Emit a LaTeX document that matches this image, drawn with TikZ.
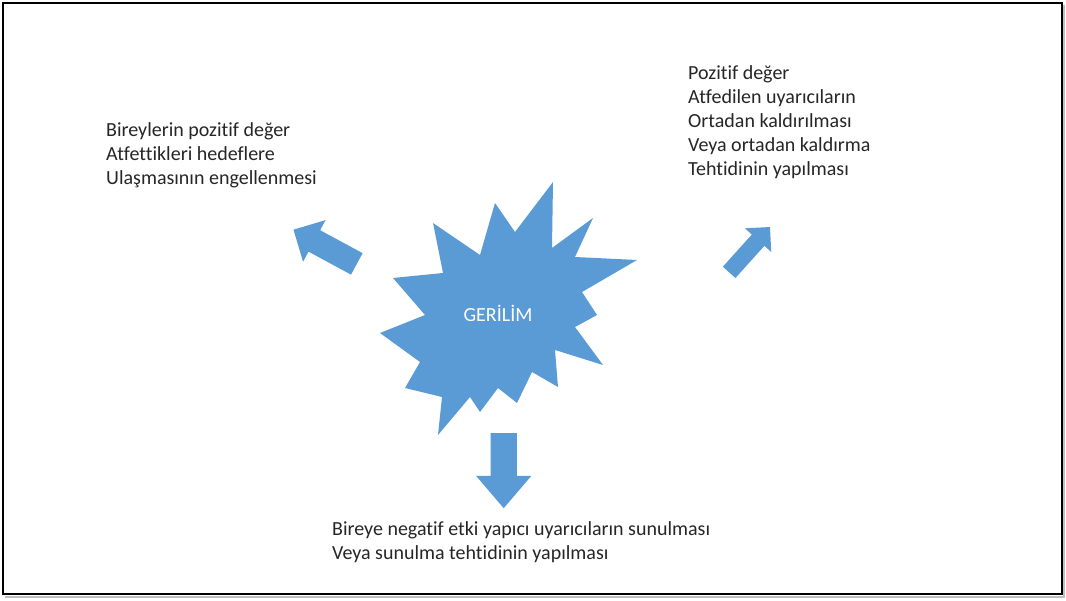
\documentclass[tikz,border=0pt]{standalone}
\usepackage{fontspec}
\setmainfont{Carlito}[Ligatures=NoCommon]
\usetikzlibrary{shapes.arrows}
\definecolor{ofisMavi}{HTML}{5B9BD5}
\tikzset{
  yazi/.style={anchor=north west, inner sep=0pt, align=left, text=black!85,
    font=\fontsize{20}{24.2}\selectfont},
  blokok/.style={single arrow, fill=ofisMavi, draw=none, anchor=tail,
    single arrow head indent=0pt}
}
\begin{document}
\begin{tikzpicture}[x=1pt,y=-1pt]
\useasboundingbox (0,0) rectangle (1066,601);
\fill[white] (0,0) rectangle (1066,601);
\draw[line width=2.5pt, black!25] (5,597) -- (1064,597) -- (1064,5);
\draw[line width=2pt] (3,3) rectangle (1062,594);
% patlama
\fill[ofisMavi] (553,182) -- (552,248) -- (593,218) -- (575,257) -- (637,260)
  -- (582,292) -- (597,315) -- (575,327) -- (603,365) -- (555,350)
  -- (558,387) -- (532,372) -- (517,403) -- (498,388) -- (480,412)
  -- (470,397) -- (438,435) -- (442,397) -- (405,388) -- (420,362)
  -- (380,333) -- (425,315) -- (393,278) -- (443,273) -- (433,223)
  -- (480,255) -- (495,203) -- (515,232) -- cycle;
\node[text=white, font=\fontsize{20}{24}\selectfont] (gerilim) at (498,313) {GERİLİM};
% oklar
\node[blokok, rotate=151.6, minimum height=72pt, inner sep=12pt,
  single arrow head extend=11.5pt, single arrow tip angle=90] (okSol) at (357,264) {};
\node[blokok, rotate=48, minimum height=61pt, inner sep=8.25pt,
  single arrow head extend=9.25pt, single arrow tip angle=90] (okSag) at (729,272.5) {};
\node[blokok, rotate=-90, minimum height=75pt, inner sep=13pt,
  single arrow head extend=14.5pt, single arrow tip angle=81] (okAlt) at (503.7,433) {};
% metinler
\node[yazi] (sol) at (106,122) {Bireylerin pozitif değer\\Atfettikleri hedeflere\\Ulaşmasının engellenmesi};
\node[yazi] (sag) at (688,65) {Pozitif değer\\Atfedilen uyarıcıların\\Ortadan kaldırılması\\Veya ortadan kaldırma\\Tehtidinin yapılması};
\node[yazi] (alt) at (332,521) {Bireye negatif etki yapıcı uyarıcıların sunulması\\Veya sunulma tehtidinin yapılması};
\end{tikzpicture}
\end{document}
